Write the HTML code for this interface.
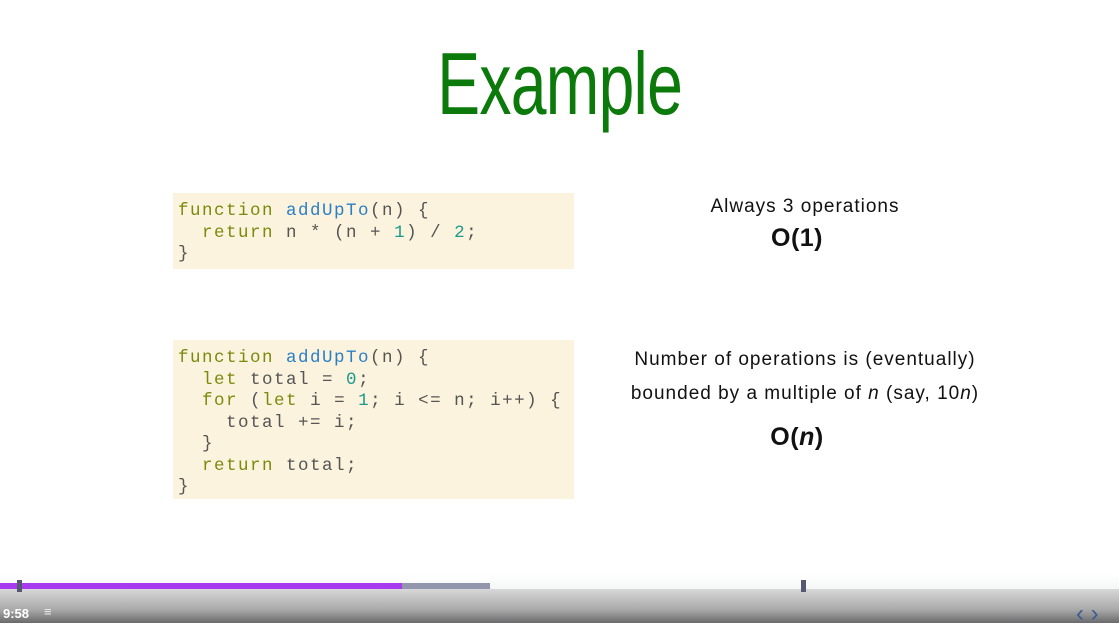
<!DOCTYPE html>
<html><head><meta charset="utf-8"><style>
body{margin:0;width:1119px;height:623px;position:relative;background:#fff;overflow:hidden;font-family:"Liberation Sans",sans-serif}
.t{position:absolute;left:0;width:1119px;top:33px;text-align:center}
.t span{display:inline-block;font-size:88px;color:#0b7a0b;transform:scaleX(0.73);font-weight:300;letter-spacing:-1px}
.code{position:absolute;left:173px;width:401px;background:#fbf3dd;font-family:"Liberation Mono",monospace;font-size:17.5px;letter-spacing:1.5px;line-height:21.5px;color:#555;padding:8px 0 0 5px;box-sizing:border-box;white-space:pre}
.k{color:#7b8a0c}.f{color:#2a7fc5}.n{color:#1a9a8a}
.r{position:absolute;text-align:center;width:500px;left:555px;color:#111;font-size:19px;letter-spacing:1px}
.b{font-weight:bold;font-size:25px;letter-spacing:0.5px;left:547px}
</style></head><body>
<div class="t"><span>Example</span></div>
<div class="code" style="top:193px;height:76px"><span class="k">function</span> <span class="f">addUpTo</span>(n) {
  <span class="k">return</span> n * (n + <span class="n">1</span>) / <span class="n">2</span>;
}</div>
<div class="code" style="top:340px;height:159px"><span class="k">function</span> <span class="f">addUpTo</span>(n) {
  <span class="k">let</span> total = <span class="n">0</span>;
  <span class="k">for</span> (<span class="k">let</span> i = <span class="n">1</span>; i &lt;= n; i++) {
    total += i;
  }
  <span class="k">return</span> total;
}</div>
<div class="r" style="top:196px">Always 3 operations</div>
<div class="r b" style="top:224px">O(1)</div>
<div class="r" style="top:349px">Number of operations is (eventually)</div>
<div class="r" style="top:383px">bounded by a multiple of <i>n</i> (say, 10<i>n</i>)</div>
<div class="r b" style="top:423px">O(<i>n</i>)</div>
<div style="position:absolute;left:0;top:575px;width:1119px;height:48px;background:linear-gradient(#fff 0,#f4f6f6 14px,#d8d8d8 14px,#a8a8a8 35px,#6a6a6c 48px)"></div>
<div style="position:absolute;left:0;top:583px;width:402px;height:6px;background:#a83af0"></div>
<div style="position:absolute;left:402px;top:583px;width:88px;height:6px;background:#9296ad"></div>
<div style="position:absolute;left:17px;top:580px;width:5px;height:12px;background:#555870"></div>
<div style="position:absolute;left:801px;top:580px;width:5px;height:12px;background:#555870"></div>
<div style="position:absolute;left:3px;top:606px;color:#fff;font-size:13px;font-weight:bold">9:58</div>
<div style="position:absolute;left:44px;top:604px;color:#eee;font-size:13px">≡</div>
<div style="position:absolute;left:1076px;top:600px;color:#3b5c93;font-size:24px">‹ ›</div>
</body></html>
